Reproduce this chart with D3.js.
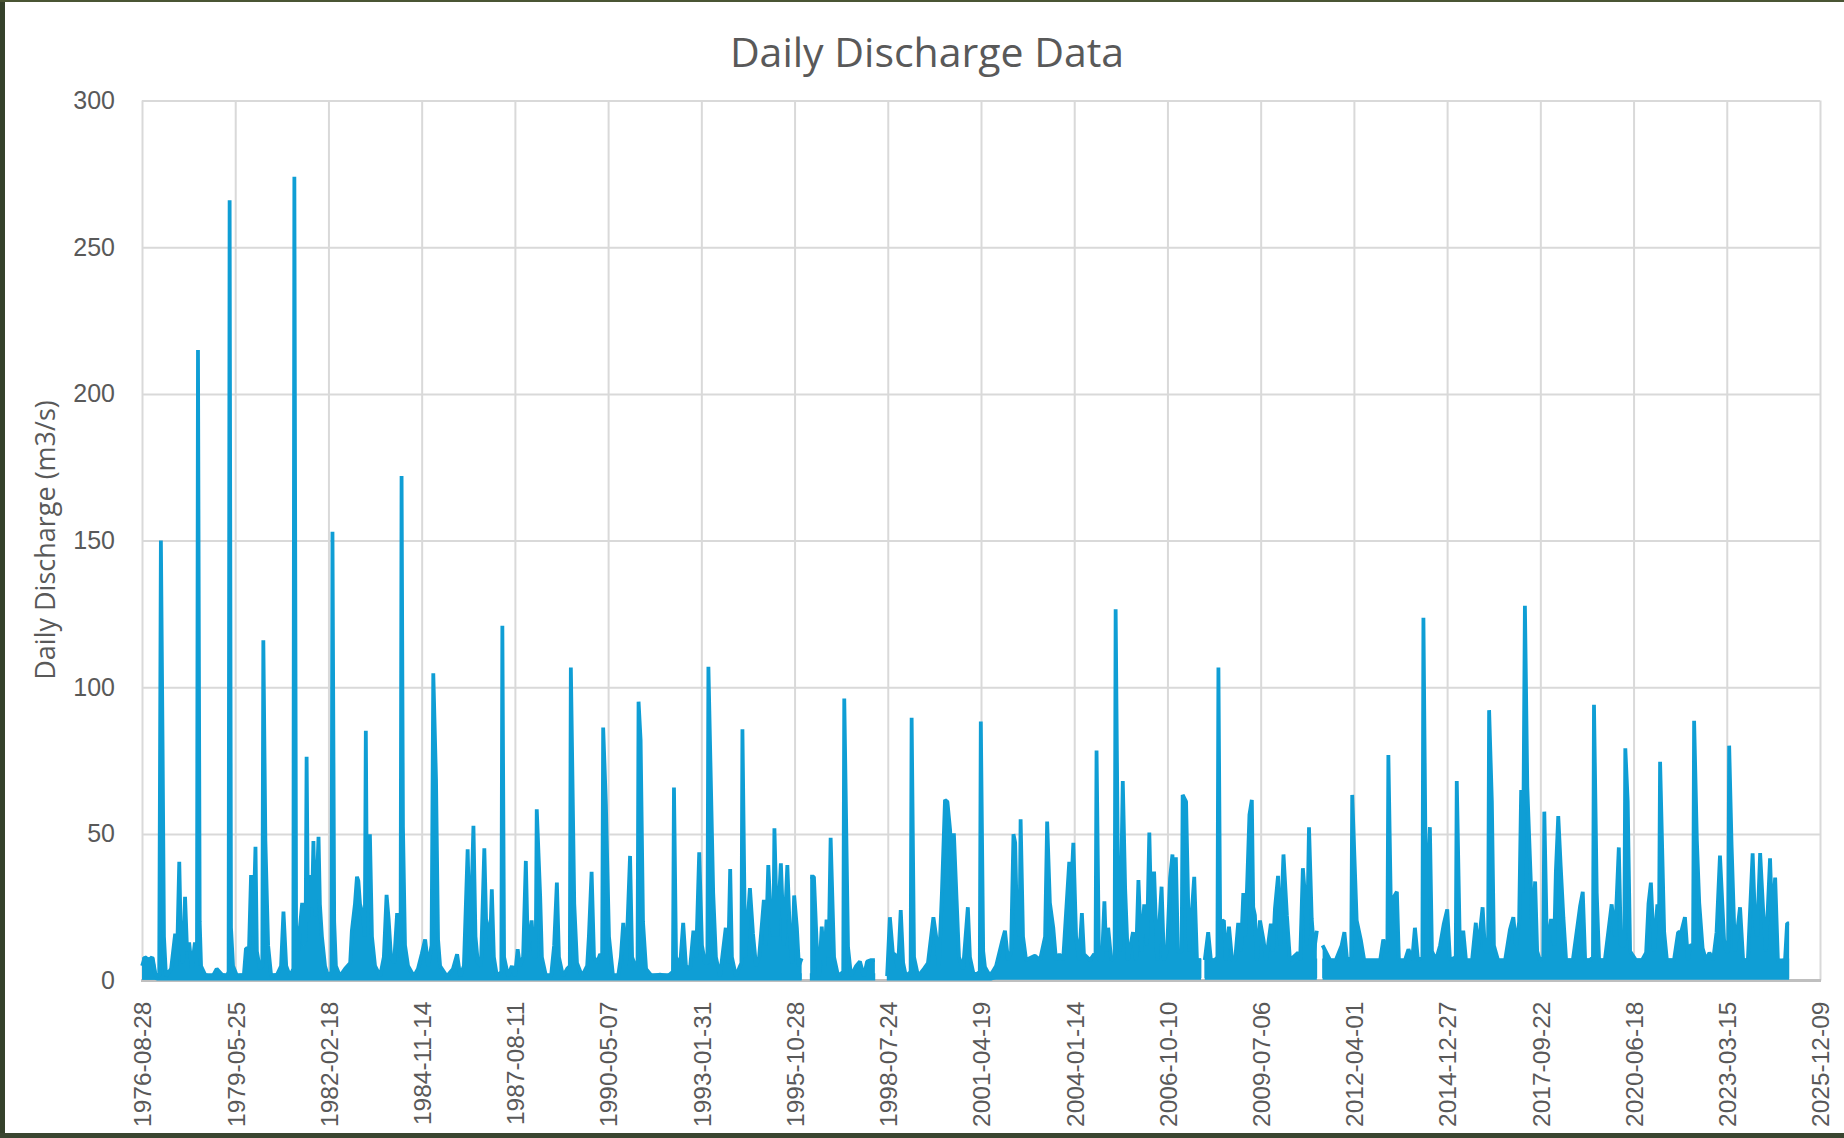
<!DOCTYPE html>
<html lang="en">
<head>
<meta charset="utf-8">
<title>Daily Discharge Data</title>
<script src="https://cdn.jsdelivr.net/npm/d3@7/dist/d3.min.js"></script>
<style>
body { margin: 0; background: #ffffff; }
svg { display: block; }
</style>
</head>
<body>
<svg width="1844" height="1138"></svg>
<script>
// x axis tick labels (Excel date axis, 1000 day steps)
var tickLabels = ["1976-08-28","1979-05-25","1982-02-18","1984-11-14","1987-08-11","1990-05-07",
  "1993-01-31","1995-10-28","1998-07-24","2001-04-19","2004-01-14","2006-10-10","2009-07-06",
  "2012-04-01","2014-12-27","2017-09-22","2020-06-18","2023-03-15","2025-12-09"];
var yTicks = [0, 50, 100, 150, 200, 250, 300];

// traced discharge, [decimal year, m3/s]; null = missing record
var dailyFlow = [
[1976.66,5],[1976.74,8],[1976.86,7],[1976.95,8],[1977.04,2],[1977.16,1.5],[1977.21,150],[1977.26,79],[1977.30,15],[1977.36,1.5],
[1977.51,4],[1977.63,16],[1977.68,5],[1977.75,40.5],[1977.80,12],[1977.86,6],[1977.92,28.6],[1977.98,10],[1978.04,13],[1978.12,4],
[1978.21,13],[1978.27,5],[1978.30,215],[1978.35,20],[1978.39,5],[1978.51,2],[1978.71,1],[1978.85,4],[1979.01,2],[1979.15,1.5],
[1979.20,3],[1979.23,266],[1979.27,18],[1979.33,5],[1979.45,1.5],[1979.65,2],[1979.71,11],[1979.80,11],[1979.86,36],[1979.92,15],[1979.99,45.6],
[1980.03,10],[1980.12,4],[1980.19,5],[1980.22,116],[1980.28,47.6],[1980.36,12],[1980.45,1.5],[1980.62,2],[1980.74,5],[1980.81,23.5],[1980.89,5],
[1981.00,1.5],[1981.10,4],[1981.13,274],[1981.18,19],[1981.24,10],[1981.30,19],[1981.36,26.5],[1981.41,12],[1981.46,14],[1981.49,76.3],[1981.53,20],[1981.59,36],
[1981.65,25],[1981.69,47.6],[1981.74,22],[1981.80,36],[1981.84,49],[1981.88,26],[1981.94,15],[1982.03,5],[1982.12,1.5],[1982.22,3],[1982.25,153],
[1982.30,20],[1982.35,5],[1982.47,1.5],[1982.62,4],[1982.77,6],[1982.82,17],[1982.91,26],[1982.97,35.4],[1983.01,34],[1983.06,26],
[1983.15,22],[1983.20,15],[1983.23,85.2],[1983.26,30],[1983.35,49.9],[1983.41,15],[1983.50,5],[1983.65,1.5],[1983.76,8],[1983.84,29.2],[1983.90,21],
[1983.97,8],[1984.06,6],[1984.15,23],[1984.20,12],[1984.25,8],[1984.28,172],[1984.32,52.5],[1984.38,12],[1984.47,5],[1984.64,1.5],[1984.76,4],
[1984.87,9],[1984.97,14],[1985.06,5],[1985.16,12],[1985.21,104.8],[1985.29,68.5],[1985.35,14],[1985.41,5],[1985.61,1.5],[1985.79,4],
[1985.91,9],[1986.00,1.5],[1986.11,5],[1986.22,44.8],[1986.29,10],[1986.39,52.8],[1986.45,15],[1986.52,6],[1986.61,5],[1986.71,45.1],
[1986.76,21],[1986.82,18],[1986.88,12],[1986.93,31.1],[1986.99,8],[1987.08,1.5],[1987.21,3],[1987.24,121],[1987.29,8],[1987.41,1.5],[1987.52,5],
[1987.61,1.5],[1987.69,10.7],[1987.76,5],[1987.85,8],[1987.93,40.8],[1987.99,10],[1988.10,20.5],[1988.17,8],[1988.22,8],[1988.25,58.4],[1988.35,28.7],
[1988.40,8],[1988.52,1.5],[1988.67,1.5],[1988.76,12],[1988.84,33.4],[1988.90,8],[1989.02,1.5],[1989.14,4],[1989.22,5],[1989.25,106.7],[1989.35,26.2],
[1989.43,6],[1989.58,1.5],[1989.73,5],[1989.78,15],[1989.86,37.1],[1989.93,8],[1990.02,6],[1990.11,9],[1990.17,8],[1990.20,86.3],[1990.28,60],
[1990.37,15],[1990.49,1.5],[1990.64,1.5],[1990.72,8],[1990.79,19.7],[1990.87,5],[1990.99,42.5],[1991.05,8],[1991.14,5],[1991.21,6],[1991.24,95.1],
[1991.30,82],[1991.37,20],[1991.46,4],[1991.63,1.5],[1991.87,2],[1992.10,1.5],[1992.25,3],[1992.28,65.8],[1992.34,8],[1992.46,5],[1992.55,19.7],
[1992.63,5],[1992.75,4],[1992.85,17],[1992.93,8],[1993.02,43.7],[1993.10,12],[1993.19,6],[1993.26,6],[1993.29,107],[1993.43,30],[1993.51,8],
[1993.63,1.5],[1993.80,18],[1993.87,6],[1993.93,38],[1993.98,8],[1994.10,1.5],[1994.22,5],[1994.26,6],[1994.29,85.7],[1994.37,8],[1994.51,31.5],
[1994.60,16],[1994.69,5],[1994.78,8],[1994.86,19],[1994.92,27.5],[1994.98,12],[1995.05,39.4],[1995.13,20],[1995.20,15],[1995.23,51.9],[1995.31,15],
[1995.42,40],[1995.51,12],[1995.61,39.4],[1995.69,14],[1995.75,6],[1995.81,29],[1995.89,18],[1995.95,5],[1996.03,7.6],[1996.08,null],
[1996.28,35.4],[1996.39,35.4],[1996.48,10],[1996.54,1.5],[1996.62,18.4],[1996.69,5],[1996.76,20.8],[1996.82,8],[1996.88,48.7],[1996.98,8],
[1997.10,1.5],[1997.25,3],[1997.28,96.2],[1997.39,11.4],[1997.48,1.5],[1997.63,5],[1997.74,6.5],[1997.86,1.5],[1997.95,6.5],[1998.07,7],[1998.18,7],
[1998.25,null],[1998.54,1.5],[1998.62,21.6],[1998.71,9],[1998.77,9],[1998.86,4],[1998.94,24],[1999.01,6],[1999.09,1.5],[1999.23,3],[1999.26,89.6],
[1999.33,8],[1999.45,1.5],[1999.62,4],[1999.74,6],[1999.90,21.6],[1999.98,15],[2000.06,5],[2000.15,30],[2000.24,61.6],[2000.31,61],
[2000.39,51.3],[2000.45,27.5],[2000.50,50.2],[2000.58,27.5],[2000.65,8],[2000.77,4],[2000.91,25],[2000.97,8],[2001.09,1.5],[2001.26,3],[2001.29,88.3],
[2001.36,10],[2001.41,4.7],[2001.56,1.5],[2001.74,5],[2001.93,14],[2002.00,17],[2002.09,7],[2002.18,10],[2002.25,49.9],[2002.30,47],
[2002.35,20],[2002.43,15],[2002.46,55],[2002.53,15],[2002.62,7],[2002.88,8.5],[2003.03,7],[2003.18,15],[2003.24,54.2],[2003.32,26.5],[2003.42,18],
[2003.50,7],[2003.60,9],[2003.71,7],[2003.79,22],[2003.89,40.5],[2003.94,30],[2004.01,47],[2004.09,15],[2004.18,7],[2004.26,23],
[2004.32,9],[2004.50,7],[2004.62,9],[2004.66,8],[2004.69,78.4],[2004.76,7],[2004.85,7],[2004.92,27],[2004.97,10],[2005.03,18],[2005.12,7],
[2005.22,8],[2005.25,126.6],[2005.32,33],[2005.38,10],[2005.46,68],[2005.53,31],[2005.61,7],[2005.76,16.5],[2005.85,7],[2005.92,34.3],[2006.00,10],
[2006.09,26],[2006.17,12],[2006.24,50.5],[2006.30,20],[2006.38,37.2],[2006.47,7],[2006.60,32],[2006.67,7],[2006.76,10],[2006.85,35],
[2006.92,43],[2006.97,20],[2007.02,42],[2007.08,10],[2007.19,10],[2007.22,63.3],[2007.32,61],[2007.41,10],[2007.56,35.4],[2007.64,7],[2007.76,7],
[2007.80,null],[2007.87,7],[2007.97,16.5],[2008.05,7],[2008.17,7],[2008.24,8],[2008.27,106.7],[2008.32,20],[2008.43,20.5],[2008.49,7],[2008.58,18.4],
[2008.67,7],[2008.76,7],[2008.85,19.7],[2008.93,10],[2009.00,29.8],[2009.05,15],[2009.11,32],[2009.18,56.5],[2009.25,61.6],[2009.29,25],
[2009.34,22.3],[2009.40,7],[2009.49,20.5],[2009.59,14],[2009.67,7],[2009.81,19.4],[2009.87,10],[2009.93,24.6],[2010.02,35.7],[2010.08,12],
[2010.18,43],[2010.28,22.3],[2010.37,7],[2010.61,9.5],[2010.67,7],[2010.75,38.3],[2010.83,26],[2010.87,12],[2010.93,52.3],[2011.01,21],
[2011.08,10],[2011.16,17],[2011.22,null],[2011.33,12],[2011.55,7],[2011.72,7],[2011.89,12],[2011.97,16.5],[2012.05,7],[2012.17,8],[2012.20,63.3],
[2012.33,20.5],[2012.45,14],[2012.55,7],[2012.78,7],[2013.02,7],[2013.11,14],[2013.19,10],[2013.23,10],[2013.26,76.9],[2013.34,20],[2013.43,28.7],
[2013.51,30.3],[2013.57,7],[2013.75,7],[2013.85,10.7],[2013.96,7],[2014.04,18],[2014.13,7],[2014.26,8],[2014.29,123.7],[2014.37,20],[2014.48,52.3],
[2014.54,10],[2014.66,7],[2014.78,12],[2014.89,19.4],[2014.99,24.3],[2015.07,7],[2015.24,8],[2015.27,68],[2015.36,12],[2015.46,17],[2015.54,7],
[2015.72,7],[2015.83,19.7],[2015.89,10],[2016.03,25],[2016.10,10],[2016.19,10],[2016.22,92.2],[2016.30,61],[2016.36,12],[2016.48,7],[2016.69,7],
[2016.83,17.3],[2016.93,21.6],[2017.01,12],[2017.10,20],[2017.16,65],[2017.21,30],[2017.27,127.8],[2017.34,66.1],[2017.44,34.9],[2017.49,15],
[2017.57,33.8],[2017.63,10],[2017.71,7],[2017.81,8],[2017.84,57.6],[2017.92,10],[2018.04,21],[2018.13,12],[2018.18,37.1],[2018.25,56.1],[2018.32,39.4],
[2018.40,21.6],[2018.48,7],[2018.68,7],[2018.89,25.2],[2018.97,30.3],[2019.04,7],[2019.18,7],[2019.27,8],[2019.30,94],[2019.38,30],[2019.45,7],
[2019.62,7],[2019.82,26],[2019.92,15],[2020.03,45.4],[2020.09,12],[2020.19,12],[2020.22,79.2],[2020.29,61],[2020.36,10],[2020.53,7],[2020.71,7],
[2020.83,9.5],[2020.90,26.2],[2020.97,33.4],[2021.06,10],[2021.16,26],[2021.21,20],[2021.24,74.6],[2021.36,16.5],[2021.44,7],[2021.65,7],[2021.77,16.5],
[2021.86,16.5],[2021.97,21.6],[2022.06,7],[2022.12,12],[2022.21,12],[2022.24,88.6],[2022.32,47.9],[2022.39,26.5],[2022.49,11],[2022.59,7],[2022.69,9.5],
[2022.80,7],[2022.90,16.5],[2023.00,42.6],[2023.12,14],[2023.18,10],[2023.24,10],[2023.27,80.1],[2023.34,46.5],[2023.44,10],[2023.59,25],[2023.68,7],
[2023.82,7],[2023.96,43.4],[2024.03,20],[2024.09,15],[2024.18,43.5],[2024.27,23.5],[2024.35,10],[2024.47,41.7],[2024.53,20],[2024.62,35.1],
[2024.70,7],[2024.76,6.6],[2024.91,7],[2024.97,19.5],[2025.03,19.5]
];

// low-flow envelope of the day to day noise (decimal year, low, high)
var bandYears = [1976.66, 1977.02, 1977.10, 1996.03, 1996.08, 1996.27, 1998.19, 1998.25, 1998.53, 2001.60, 2001.82, 2007.77, 2007.80, 2007.86, 2011.17, 2011.22, 2011.32, 2012.5, 2014.5, 2018.0, 2025.03];
var bandLow  = [0.3, 0.3, 0,   0,   null, 0,   0,   null, 0,   0,   0.8, 0.8, null, 0.8, 0.8, null, 0.8, 0.8, 0.8, 0.8, 0.8];
var bandHigh = [8,   8,   2.5, 2.5, null, 2.5, 2.5, null, 2.5, 3,   7.5, 7.5, null, 7.5, 7.5, null, 7.5, 7,   7,   7.5, 7.5];

var W = 1844, H = 1138;
var plotLeft = 142, plotRight = 1820, plotTop = 100.6, plotBottom = 980.6;
var lineColor = "#0F9ED5";
var textColor = "#595959";

var parseDate = d3.timeParse("%Y-%m-%d");
function yearToDate(v) {
  var yr = Math.floor(v);
  var a = new Date(yr, 0, 1), b = new Date(yr + 1, 0, 1);
  return new Date(+a + (v - yr) * (b - a));
}

var tickDates = tickLabels.map(parseDate);

var x = d3.scaleTime()
  .domain([tickDates[0], tickDates[tickDates.length - 1]])
  .range([plotLeft, plotRight]);

var y = d3.scaleLinear()
  .domain([0, 300])
  .range([plotBottom, plotTop]);

var svg = d3.select("svg");

svg.append("rect").attr("x", 0).attr("y", 0).attr("width", W).attr("height", H).attr("fill", "#ffffff");

// photo background showing round the screenshot
svg.append("rect").attr("x", 0).attr("y", 0).attr("width", 5).attr("height", H).attr("fill", "#35412b");
svg.append("rect").attr("x", 0).attr("y", 0).attr("width", W).attr("height", 2).attr("fill", "#4a5534");
svg.append("rect").attr("x", 0).attr("y", 1133).attr("width", W).attr("height", 5).attr("fill", "#3a4530");

// title
svg.append("text")
  .attr("x", 927)
  .attr("y", 67)
  .attr("text-anchor", "middle")
  .attr("font-family", "'Open Sans', sans-serif")
  .attr("font-size", 41)
  .attr("fill", textColor)
  .text("Daily Discharge Data");

// y axis with horizontal gridlines
var yAxis = svg.append("g")
  .attr("transform", "translate(" + plotLeft + ",0)")
  .call(d3.axisLeft(y).tickValues(yTicks).tickSize(-(plotRight - plotLeft)).tickPadding(27));
yAxis.select(".domain").remove();
yAxis.selectAll(".tick line").attr("stroke", "#d9d9d9").attr("stroke-width", 2);
yAxis.selectAll(".tick text")
  .attr("font-family", "'Liberation Sans', Arial, sans-serif")
  .attr("font-size", 25)
  .attr("fill", textColor);

// x axis with vertical gridlines
var xAxis = svg.append("g")
  .attr("transform", "translate(0," + plotBottom + ")")
  .call(d3.axisBottom(x).tickValues(tickDates).tickSize(-(plotBottom - plotTop)).tickFormat(d3.timeFormat("%Y-%m-%d")));
xAxis.select(".domain").remove();
xAxis.selectAll(".tick line").attr("stroke", "#d9d9d9").attr("stroke-width", 2);
xAxis.selectAll(".tick text")
  .attr("transform", "rotate(-90)")
  .attr("x", -21)
  .attr("y", 0)
  .attr("dy", "0.36em")
  .style("text-anchor", "end")
  .attr("font-family", "'Liberation Sans', Arial, sans-serif")
  .attr("font-size", 24.5)
  .attr("fill", textColor);

// the zero gridline is replaced by the axis line
yAxis.selectAll(".tick").filter(function(d) { return d === 0; }).select("line").remove();
svg.append("line")
  .attr("x1", plotLeft - 1).attr("x2", plotRight + 1)
  .attr("y1", y(0)).attr("y2", y(0))
  .attr("stroke", "#bfbfbf")
  .attr("stroke-width", 3);

// y axis title
svg.append("text")
  .attr("transform", "translate(55,540) rotate(-90)")
  .attr("text-anchor", "middle")
  .attr("font-family", "'Open Sans', sans-serif")
  .attr("font-size", 27)
  .attr("fill", textColor)
  .text("Daily Discharge (m3/s)");

// noise band
var bandData = bandYears.map(function(t, i) { return [t, bandLow[i], bandHigh[i]]; });
var band = d3.area()
  .defined(function(d) { return d[1] != null; })
  .x(function(d) { return x(yearToDate(d[0])); })
  .y0(function(d) { return y(d[1]); })
  .y1(function(d) { return y(d[2]); });

svg.append("path")
  .datum(bandData)
  .attr("d", band)
  .attr("fill", lineColor);

// dense daily values read as a filled mass under the trace
var under = d3.area()
  .defined(function(d) { return d[1] != null; })
  .x(function(d) { return x(yearToDate(d[0])); })
  .y0(y(0.3))
  .y1(function(d) { return y(d[1]); });

svg.append("path")
  .datum(dailyFlow)
  .attr("d", under)
  .attr("fill", lineColor);

// discharge line
var line = d3.line()
  .defined(function(d) { return d[1] != null; })
  .x(function(d) { return x(yearToDate(d[0])); })
  .y(function(d) { return y(d[1]); });

svg.append("path")
  .datum(dailyFlow)
  .attr("d", line)
  .attr("fill", "none")
  .attr("stroke", lineColor)
  .attr("stroke-width", 3.8)
  .attr("stroke-linejoin", "bevel");
</script>
</body>
</html>
